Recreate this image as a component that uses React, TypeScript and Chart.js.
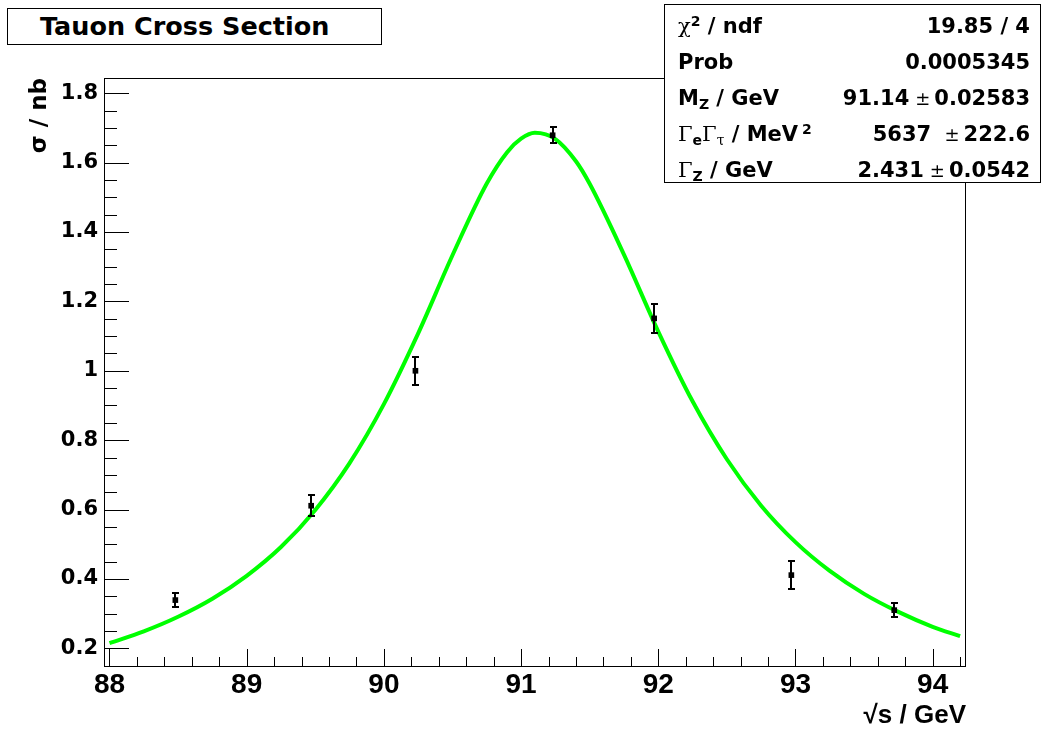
import React, { useEffect, useRef } from "react";
import { Chart, registerables } from "chart.js";

Chart.register(...registerables);

const ENERGY_GEV = [88.48, 89.47, 90.23, 91.23, 91.97, 92.97, 93.72];
const SIGMA_NB = [0.339, 0.611, 1.0, 1.679, 1.151, 0.411, 0.31];
const SIGMA_ERR = [0.019, 0.031, 0.041, 0.023, 0.041, 0.041, 0.02];

// Fitted curve
const FIT_ENERGY = [
  88.0, 88.25, 88.5, 88.75, 89.0, 89.25, 89.5, 89.75, 90.0, 90.25, 90.5, 90.75,
  90.9, 91.0, 91.1, 91.25, 91.4, 91.5, 91.75, 92.0, 92.25, 92.5, 92.75, 93.0,
  93.25, 93.5, 93.75, 94.0, 94.2,
];
const FIT_SIGMA = [
  0.215, 0.249, 0.291, 0.343, 0.409, 0.492, 0.599, 0.734, 0.904, 1.108, 1.333,
  1.54, 1.631, 1.669, 1.686, 1.668, 1.604, 1.539, 1.335, 1.113, 0.912, 0.745,
  0.611, 0.506, 0.423, 0.357, 0.305, 0.262, 0.235,
];

const X_TICKS = [88, 89, 90, 91, 92, 93, 94];
const Y_TICKS = [0.2, 0.4, 0.6, 0.8, 1, 1.2, 1.4, 1.6, 1.8];
const X_MIN = 87.96;
const X_MAX = 94.243;
const Y_MIN = 0.149;
const Y_MAX = 1.844;
const X_MINOR = 0.2;
const Y_MINOR = 0.05;

const frameAndTicks = {
  id: "frameAndTicks",
  beforeDatasetsDraw(chart: any) {
    const { ctx, chartArea, scales } = chart;
    const { left, right, top, bottom } = chartArea;
    const xs = scales.x;
    const ys = scales.y;
    ctx.save();
    ctx.strokeStyle = "#000";
    ctx.lineWidth = 1;
    ctx.beginPath();
    for (let k = Math.ceil(X_MIN / X_MINOR - 1e-6); k * X_MINOR <= X_MAX + 1e-9; k++) {
      const v = k * X_MINOR;
      const major = X_TICKS.some((t) => Math.abs(t - v) < 1e-6);
      const px = Math.round(xs.getPixelForValue(v)) + 0.5;
      ctx.moveTo(px, bottom);
      ctx.lineTo(px, bottom - (major ? 17 : 9));
    }
    for (let k = Math.ceil(Y_MIN / Y_MINOR - 1e-6); k * Y_MINOR <= Y_MAX + 1e-9; k++) {
      const v = k * Y_MINOR;
      const major = Y_TICKS.some((t) => Math.abs(t - v) < 1e-6);
      const py = Math.round(ys.getPixelForValue(v)) + 0.5;
      ctx.moveTo(left, py);
      ctx.lineTo(left + (major ? 25 : 13), py);
    }
    ctx.stroke();
    ctx.strokeRect(left + 0.5, top + 0.5, right - left - 1, bottom - top);
    ctx.restore();
  },
  afterDatasetsDraw(chart: any) {
    const { ctx, scales } = chart;
    const xs = scales.x;
    const ys = scales.y;
    ctx.save();
    ctx.fillStyle = "#000";
    ENERGY_GEV.forEach((e, i) => {
      const px = Math.round(xs.getPixelForValue(e));
      const yt = Math.round(ys.getPixelForValue(SIGMA_NB[i] + SIGMA_ERR[i]));
      const yb = Math.round(ys.getPixelForValue(SIGMA_NB[i] - SIGMA_ERR[i]));
      ctx.fillRect(px - 1, yt, 2, yb - yt);
      ctx.fillRect(px - 3, yt - 1, 7, 2);
      ctx.fillRect(px - 3, yb - 1, 7, 2);
    });
    ctx.restore();
  },
};

const greek: React.CSSProperties = {
  fontFamily: '"DejaVu Serif", "Liberation Serif", serif',
  fontWeight: "normal",
};
const sup: React.CSSProperties = { fontSize: 14, lineHeight: 0, verticalAlign: "0.5em" };
const sub: React.CSSProperties = { fontSize: 14, lineHeight: 0, verticalAlign: "-0.3em" };
const pm: React.CSSProperties = {
  ...greek,
  fontSize: 18,
  margin: "0 4px 0 6px",
};

export default function App() {
  const canvasRef = useRef<HTMLCanvasElement | null>(null);

  useEffect(() => {
    const canvas = canvasRef.current;
    if (!canvas) return;
    const chart = new Chart(canvas, {
      type: "scatter",
      data: {
        datasets: [
          {
            label: "data",
            data: ENERGY_GEV.map((e, i) => ({ x: e, y: SIGMA_NB[i] })),
            pointStyle: "rect",
            pointRadius: 4,
            backgroundColor: "#000",
            borderWidth: 0,
            showLine: false,
          } as any,
          {
            label: "fit",
            data: FIT_ENERGY.map((e, i) => ({ x: e, y: FIT_SIGMA[i] })),
            showLine: true,
            borderColor: "#00ff00",
            borderWidth: 4,
            pointRadius: 0,
            cubicInterpolationMode: "monotone",
            fill: false,
          } as any,
        ],
      },
      options: {
        animation: false,
        responsive: false,
        devicePixelRatio: 1,
        layout: { padding: { left: 0, top: 78, right: 79, bottom: 0 } },
        plugins: {
          legend: { display: false },
          tooltip: { enabled: false },
        },
        scales: {
          x: {
            type: "linear",
            min: X_MIN,
            max: X_MAX,
            afterBuildTicks: (s: any) => {
              s.ticks = X_TICKS.map((v) => ({ value: v }));
            },
            afterFit: (s: any) => {
              s.height = 65;
            },
            grid: { display: false, drawTicks: false },
            border: { display: false },
            ticks: {
              color: "#000",
              padding: 2,
              maxRotation: 0,
              autoSkip: false,
              font: { family: '"Liberation Sans", Arial, sans-serif', size: 28, weight: "bold" },
              callback: (v: any) => String(v),
            },
            title: {
              display: true,
              text: "√s / GeV",
              align: "end",
              color: "#000",
              font: { family: '"Liberation Sans", Arial, sans-serif', size: 26, weight: "bold" },
              padding: { top: 4, bottom: 0 },
            },
          },
          y: {
            type: "linear",
            min: Y_MIN,
            max: Y_MAX,
            afterBuildTicks: (s: any) => {
              s.ticks = Y_TICKS.map((v) => ({ value: v }));
            },
            afterFit: (s: any) => {
              s.width = 104;
            },
            grid: { display: false, drawTicks: false },
            border: { display: false },
            ticks: {
              color: "#000",
              padding: 6,
              autoSkip: false,
              font: { family: '"DejaVu Sans", sans-serif', size: 21, weight: "bold" },
              callback: (v: any) => String(v),
            },
            title: {
              display: true,
              text: "σ / nb",
              align: "end",
              color: "#000",
              font: { family: '"DejaVu Sans", sans-serif', size: 23, weight: "bold" },
              padding: { top: 26, bottom: 0 },
            },
          },
        },
      } as any,
      plugins: [frameAndTicks],
    });
    return () => chart.destroy();
  }, []);

  const row: React.CSSProperties = {
    height: 36,
    lineHeight: "36px",
    display: "flex",
    justifyContent: "space-between",
    alignItems: "baseline",
    padding: "0 10px 0 13px",
    whiteSpace: "nowrap",
  };

  return (
    <div
      style={{
        position: "absolute",
        left: 0,
        top: 0,
        width: 1045,
        height: 731,
        background: "#fff",
        overflow: "hidden",
      }}
    >
      <canvas ref={canvasRef} width={1045} height={731} style={{ display: "block" }} />
      <div
        style={{
          position: "absolute",
          left: 7,
          top: 8,
          width: 375,
          height: 37,
          boxSizing: "border-box",
          border: "1px solid #000",
          background: "#fff",
          fontFamily: '"DejaVu Sans", sans-serif',
          fontWeight: "bold",
          fontSize: 25.5,
          lineHeight: "35px",
          paddingLeft: 32,
          whiteSpace: "nowrap",
        }}
      >
        Tauon Cross Section
      </div>
      <div
        style={{
          position: "absolute",
          left: 664,
          top: 4,
          width: 377,
          height: 179,
          boxSizing: "border-box",
          border: "1px solid #000",
          background: "#fff",
          fontFamily: '"DejaVu Sans", sans-serif',
          fontWeight: "bold",
          fontSize: 21,
          paddingTop: 3,
        }}
      >
        <div style={row}>
          <span>
            <span style={greek}>χ</span>
            <span style={sup}>2</span> / ndf
          </span>
          <span>19.85 / 4</span>
        </div>
        <div style={row}>
          <span>Prob</span>
          <span>0.0005345</span>
        </div>
        <div style={row}>
          <span>
            M<span style={sub}>Z</span> / GeV
          </span>
          <span>
            91.14<span style={pm}>±</span>0.02583
          </span>
        </div>
        <div style={row}>
          <span>
            <span style={greek}>Γ</span>
            <span style={sub}>e</span>
            <span style={greek}>Γ</span>
            <span style={{ ...sub, ...greek }}>τ</span> / MeV
            <span style={{ ...sup, marginLeft: 4 }}>2</span>
          </span>
          <span>
            5637 <span style={pm}>±</span>222.6
          </span>
        </div>
        <div style={row}>
          <span>
            <span style={greek}>Γ</span>
            <span style={sub}>Z</span> / GeV
          </span>
          <span>
            2.431<span style={pm}>±</span>0.0542
          </span>
        </div>
      </div>
    </div>
  );
}
